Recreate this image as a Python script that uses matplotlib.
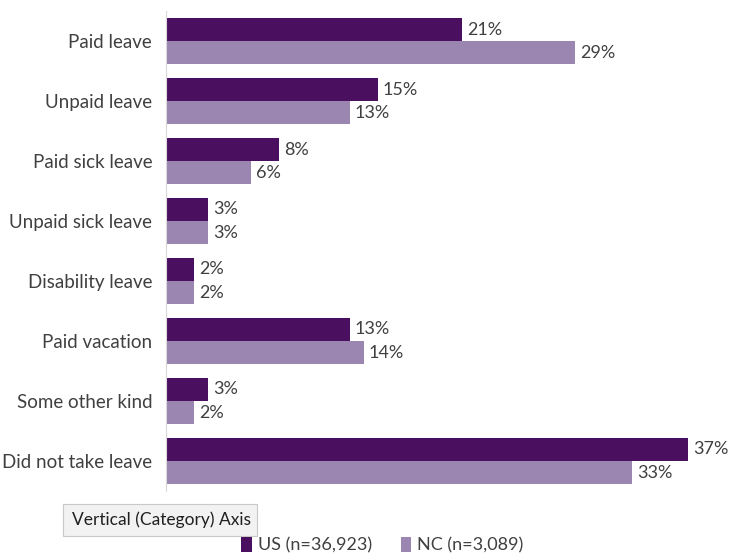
import matplotlib.pyplot as plt
from matplotlib.patches import FancyBboxPatch
import numpy as np

plt.rcParams['font.family'] = ['Lato', 'DejaVu Sans']

categories = ["Paid leave", "Unpaid leave", "Paid sick leave", "Unpaid sick leave",
              "Disability leave", "Paid vacation", "Some other kind", "Did not take leave"]
us = [21, 15, 8, 3, 2, 13, 3, 37]
nc = [29, 13, 6, 3, 2, 14, 2, 33]
us_label = "US (n=36,923)"
nc_label = "NC (n=3,089)"

us_color = "#4a0f5e"
nc_color = "#9a86b0"
text_color = "#404040"

fig = plt.figure(figsize=(7.38, 5.56), dpi=100)
ax = fig.add_axes([0.225, 0.117, 0.765, 0.863])

y = np.arange(len(categories))
h = 0.385
b1 = ax.barh(y - h / 2, us, height=h, color=us_color, label=us_label)
b2 = ax.barh(y + h / 2, nc, height=h, color=nc_color, label=nc_label)

for bars, vals in ((b1, us), (b2, nc)):
    for bar, v in zip(bars, vals):
        ax.text(v + 0.35, bar.get_y() + bar.get_height() / 2, f"{v}%",
                va="center", ha="left", fontsize=13, color=text_color)

ax.set_ylim(len(categories) - 0.5, -0.5)
ax.set_xlim(0, 40)
ax.set_yticks(y)
ax.set_yticklabels(categories, fontsize=13.5, color=text_color)
ax.tick_params(axis="y", length=0, pad=10)
ax.set_xticks([])
for s in ("top", "right", "bottom"):
    ax.spines[s].set_visible(False)
ax.spines["left"].set_color("#d9d9d9")

leg = fig.legend(handles=[b1, b2], loc="center", bbox_to_anchor=(0.518, 0.02),
                 ncol=2, frameon=False, fontsize=13, handlelength=0.6,
                 handleheight=0.9, handletextpad=0.3, columnspacing=1.6,
                 labelcolor=text_color)

# hover tooltip box over the axis
box = FancyBboxPatch((0.086, 0.036), 0.262, 0.058, transform=fig.transFigure,
                     boxstyle="square,pad=0", facecolor="#f2f2f2",
                     edgecolor="#c8c8c8", linewidth=0.8)
fig.patches.append(box)
fig.text(0.097, 0.065, "Vertical (Category) Axis", fontsize=12.5, color="#202020",
         va="center", ha="left")

fig.savefig("out.png", dpi=100)
